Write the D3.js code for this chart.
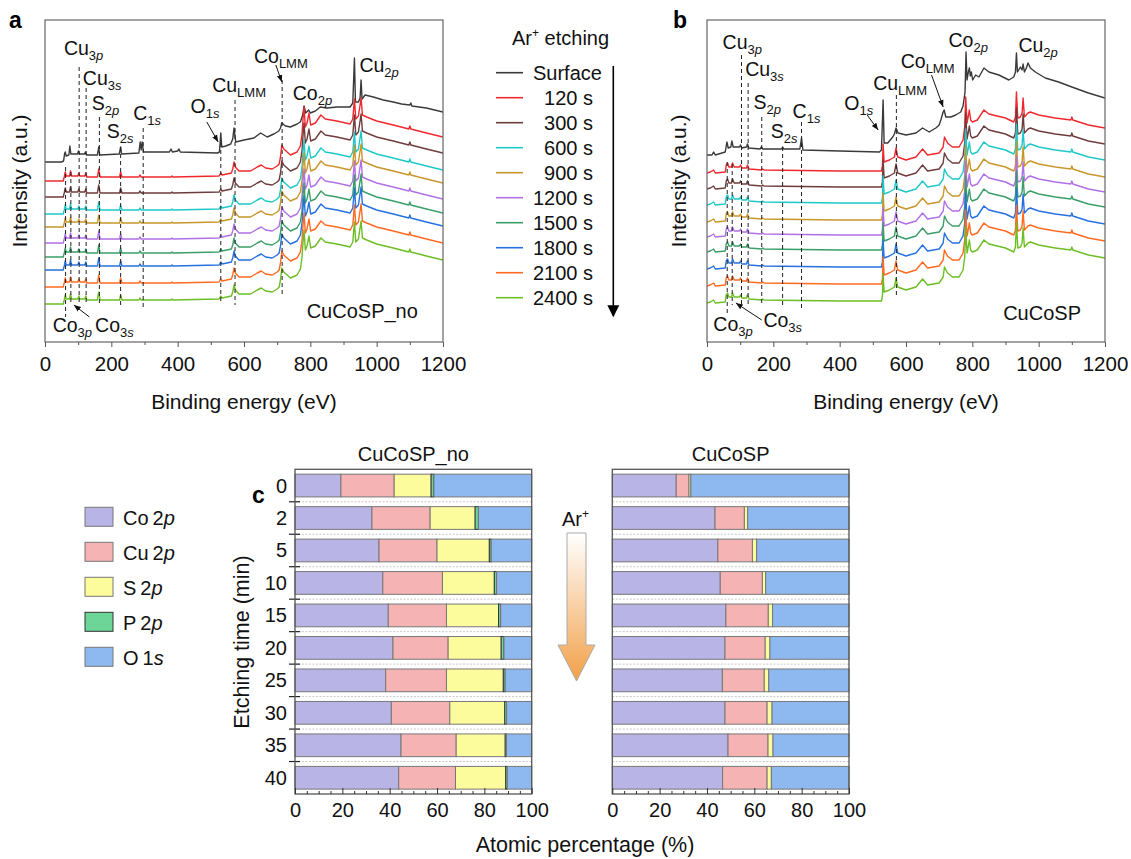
<!DOCTYPE html>
<html><head><meta charset="utf-8">
<script src="https://cdn.jsdelivr.net/npm/d3@7"></script>
<style>
body{margin:0;background:#fff;}
svg{font-family:"Liberation Sans",Arial,sans-serif;}
</style>
</head><body>
<svg id="c" width="1131" height="859"></svg>
<script>
// ---------------- DATA ----------------
const energyTicks = [0,200,400,600,800,1000,1200];
const energyMinor = [100,300,500,700,900,1100];
const seriesNames = ["Surface","120 s","300 s","600 s","900 s","1200 s","1500 s","1800 s","2100 s","2400 s"];

// Panel a (CuCoSP_no) : [binding energy eV, intensity a.u.]
const specA_surface = [[0,180],[30,180],[50,180],[56,181],[59,188],[61,190],[64,186],[72,187],[75,196],[78,188],[98,188],[101,191],[104,188],[119,188],[122,190],[125,187],[158,187],[162,195],[165,187],[224,188],[228,195],[231,188],[283,189],[287,200],[290,192],[293,200],[297,190],[375,190],[380,193],[384,190],[400,191],[404,193],[408,190],[520,189],[526,190],[530,209],[533,195],[545,196],[560,198],[566,203],[570,214],[575,200],[600,202],[630,204],[650,209],[670,205],[690,208],[705,211],[710,214],[714,219],[725,216],[740,215],[760,218],[770,220],[777,227],[781,236],[786,229],[795,232],[800,229],[815,231],[830,235],[850,234],[880,235],[920,235],[928,239],[933,284],[936,240],[945,240],[950,244],[953,262],[956,243],[965,247],[990,245],[1020,242],[1050,240],[1075,238],[1100,237],[1103,239],[1106,236],[1150,234],[1200,230]];
const specA_etched = [[0,38],[30,38],[55,38],[58,42],[61,47],[64,43],[74,43],[77,48],[80,43],[99,43],[102,46],[105,43],[120,43],[123,46],[126,42],[158,42],[162,50],[166,42],[225,42],[228,47],[232,42],[283,42],[286,44],[290,42],[380,42],[383,43],[386,42],[525,43],[530,46],[534,44],[562,46],[566,50],[570,57],[574,52],[585,48],[620,48],[640,52],[652,54],[665,51],[685,50],[700,53],[706,55],[710,62],[714,74],[720,70],[740,64],[760,67],[770,73],[775,85],[778,100],[781,112],[785,92],[790,96],[796,106],[801,94],[815,96],[832,104],[845,100],[880,98],[920,95],[928,100],[933,120],[937,100],[945,103],[953,121],[957,104],[970,102],[1000,98],[1050,94],[1097,90],[1100,93],[1103,90],[1150,86],[1200,82]];
const offsetsA = [123,107,90,77,61,47,34,17,0];

// Panel b (CuCoSP)
const specB_surface = [[0,187],[15,187],[20,190],[25,187],[55,190],[58,196],[60,200],[64,194],[72,195],[75,201],[79,195],[98,195],[101,197],[105,194],[119,195],[122,198],[126,194],[160,193],[164,195],[168,193],[225,193],[228,195],[231,193],[280,193],[285,204],[289,192],[400,191],[520,190],[526,192],[531,242],[534,199],[545,199],[560,205],[565,208],[570,214],[576,209],[600,207],[630,209],[650,214],[670,210],[690,214],[700,217],[705,222],[712,230],[715,232],[720,225],[735,225],[750,227],[765,230],[772,236],[778,250],[781,290],[784,262],[788,270],[791,274],[794,266],[797,270],[801,262],[810,267],[820,265],[835,274],[850,270],[880,267],[910,262],[925,265],[930,270],[933,289],[936,270],[945,275],[950,272],[953,278],[957,270],[963,274],[968,279],[975,274],[990,270],[1020,264],[1060,260],[1100,255],[1150,249],[1200,244]];
const specB_etched = [[0,39],[10,40],[20,42],[25,39],[55,40],[58,47],[62,49],[66,45],[74,45],[77,49],[82,45],[98,45],[101,47],[105,44],[119,44],[122,47],[127,43],[165,42],[168,43],[172,42],[400,41],[526,41],[529,46],[531,68],[534,50],[550,52],[565,55],[570,64],[575,55],[600,52],[630,55],[650,63],[665,57],[700,59],[712,65],[716,75],[725,69],[740,65],[760,65],[772,72],[777,85],[780,115],[784,89],[788,96],[791,102],[795,92],[800,90],[815,92],[835,102],[850,98],[900,94],[925,90],[930,95],[933,120],[937,94],[945,95],[950,99],[953,114],[957,95],[968,99],[975,100],[1000,97],[1050,94],[1097,92],[1100,95],[1103,92],[1150,87],[1200,84]];
const offsetsB = [130,114,98,81,66,51,34,17,0];

// Bar chart (panel c)
const etchTimes = ["0","2","5","10","15","20","25","30","35","40"];
const elements = ["Co 2p","Cu 2p","S 2p","P 2p","O 1s"];
const noCo = [19.4,32.5,35.5,37.1,39.4,41.4,38.3,40.7,44.8,43.8];
const noCu = [22.5,24.6,24.5,25.2,24.6,23.3,25.7,24.7,23.3,24.0];
const noS  = [15.6,19.0,22.1,21.9,22.0,22.4,24.0,23.2,20.7,21.2];
const noP  = [1.2,1.4,0.8,1.0,0.9,1.2,0.8,0.8,0.5,0.7];
const noO  = [41.3,22.5,17.1,14.8,13.1,11.7,11.2,10.6,10.7,10.3];
const spCo = [27.0,43.4,44.6,45.6,48.0,47.6,46.5,47.6,48.9,46.6];
const spCu = [5.4,12.4,14.6,17.8,17.9,17.0,17.7,17.8,16.9,18.8];
const spS  = [0.8,1.4,1.8,1.4,1.8,2.0,1.9,2.1,2.1,1.8];
const spP  = [0,0,0,0,0,0,0,0,0,0];
const spO  = [66.8,42.8,39.0,35.2,32.3,33.4,33.9,32.5,32.1,32.8];
const pctTicks = [0,20,40,60,80,100];

// ---------------- STYLE ----------------
const seriesColors = ["#3a3a3a","#f0282d","#6e3c3c","#1fc8c8","#c8962a","#b070e6","#3a9e68","#2670e0","#ff6a20","#6cbe24"];
const elemColors = ["#b8b4e6","#f5b3b4","#fdfc9d","#6dd598","#8eb9f0"];

const svg = d3.select("#c");
const defs = svg.append("defs");
defs.append("marker").attr("id","ah").attr("viewBox","0 0 10 10").attr("refX",10).attr("refY",5)
  .attr("markerWidth",7).attr("markerHeight",7).attr("orient","auto")
  .append("path").attr("d","M0,1L10,5L0,9z").attr("fill","#111");
defs.append("marker").attr("id","ahBig").attr("viewBox","0 0 10 10").attr("refX",9).attr("refY",5)
  .attr("markerUnits","userSpaceOnUse").attr("markerWidth",13).attr("markerHeight",12).attr("orient","auto")
  .append("path").attr("d","M0,0L10,5L0,10z").attr("fill","#000");
const grad = defs.append("linearGradient").attr("id","arg").attr("x1",0).attr("y1",0).attr("x2",0).attr("y2",1);
grad.append("stop").attr("offset","0%").attr("stop-color","#ffffff");
grad.append("stop").attr("offset","100%").attr("stop-color","#f2a048");

function subText(g, x, y, main, subN, subI, fs, sfs, dy) {
  const t = g.append("text").attr("x",x).attr("y",y).attr("font-size",fs).attr("fill","#111");
  t.append("tspan").text(main);
  t.append("tspan").attr("dy",dy).attr("font-size",sfs).text(subN);
  if (subI) t.append("tspan").attr("font-size",sfs).attr("font-style","italic").text(subI);
  return t;
}

// ---------------- SPECTRA PANELS ----------------
function spectraPanel(cfg) {
  const g = svg.append("g");
  const x = d3.scaleLinear().domain([0,1200]).range([cfg.x0, cfg.x1]);
  const y = d3.scaleLinear().domain([0,322]).range([342,20]);
  const cid = "clip"+cfg.id;
  defs.append("clipPath").attr("id",cid).append("rect")
    .attr("x",cfg.x0).attr("y",20).attr("width",cfg.x1-cfg.x0).attr("height",322);
  const line = d3.line().x(d=>x(d[0])).y(d=>y(d[1]));
  const lines = g.append("g").attr("clip-path",`url(#${cid})`);
  // dashed guide lines
  cfg.dashes.forEach(d => {
    g.append("line").attr("x1",x(d[0])).attr("x2",x(d[0])).attr("y1",y(d[1])).attr("y2",y(d[2]))
      .attr("stroke","#222").attr("stroke-width",1).attr("stroke-dasharray","4,3");
  });
  const all = [cfg.surface].concat(cfg.offsets.map(o => cfg.etched.map(p => [p[0], p[1]+o])));
  all.forEach((s,i) => {
    lines.append("path").datum(s).attr("d",line).attr("fill","none")
      .attr("stroke",seriesColors[i]).attr("stroke-width",1.4).attr("stroke-linejoin","round");
  });
  // frame
  g.append("rect").attr("x",cfg.x0).attr("y",20).attr("width",cfg.x1-cfg.x0).attr("height",322)
    .attr("fill","none").attr("stroke","#666").attr("stroke-width",1.2);
  const ax = g.append("g").attr("transform","translate(0,342)")
    .call(d3.axisBottom(x).tickValues(energyTicks).tickSize(5).tickPadding(9).tickFormat(d3.format("d")));
  ax.select(".domain").remove();
  ax.selectAll("line").attr("stroke","#555");
  ax.selectAll("text").attr("font-size",20.5).attr("fill","#111").attr("font-family",null);
  const axm = g.append("g").attr("transform","translate(0,342)")
    .call(d3.axisBottom(x).tickValues(energyMinor).tickSize(3).tickFormat(""));
  axm.select(".domain").remove();
  axm.selectAll("line").attr("stroke","#555");
  g.append("text").attr("x",(cfg.x0+cfg.x1)/2).attr("y",409).attr("text-anchor","middle")
    .attr("font-size",21).attr("fill","#111").text("Binding energy (eV)");
  g.append("text").attr("transform",`translate(${cfg.yTitleX},181) rotate(-90)`).attr("text-anchor","middle")
    .attr("font-size",21).attr("fill","#111").text("Intensity (a.u.)");
  g.append("text").attr("x",cfg.letterX).attr("y",28).attr("font-size",23).attr("font-weight","bold").text(cfg.letter);
  // labels
  cfg.labels.forEach(l => subText(g, x(l[3]), y(l[4]), l[0], l[1], l[2], 19.5, 13, 4.5));
  cfg.arrows.forEach(a => {
    g.append("line").attr("x1",x(a[0])).attr("y1",y(a[1])).attr("x2",x(a[2])).attr("y2",y(a[3]))
      .attr("stroke","#111").attr("stroke-width",1).attr("marker-end","url(#ah)");
  });
  g.append("text").attr("x",x(cfg.name[1])).attr("y",y(cfg.name[2])).attr("font-size",20).attr("fill","#111").text(cfg.name[0]);
}

spectraPanel({
  id:"a", x0:45, x1:443, yTitleX:27, letter:"a", letterX:9,
  surface:specA_surface, etched:specA_etched, offsets:offsetsA,
  dashes:[[62,175,25],[78,170,37],[103,275,37],[124,254,37],[164,225,37],[228,195,37],[296,214,35],[530,199,39],[573,242,37],[715,262,47]],
  labels:[["Cu","3","p",57,287],["Cu","3","s",114,257],["S","2","p",141,232],["S","2","s",186,204],["C","1","s",266,222],
          ["O","1","s",439,229],["Cu","LMM","",504,250],["Co","LMM","",630,279],["Co","2","p",747,242],["Cu","2","p",948,270],
          ["Co","3","p",23,10],["Co","3","s",151,10]],
  arrows:[[488,220,522,200],[696,277,714,260],[134,25,87,37]],
  name:["CuCoSP_no",789,24]
});
spectraPanel({
  id:"b", x0:707, x1:1105, yTitleX:686, letter:"b", letterX:673,
  surface:specB_surface, etched:specB_etched, offsets:offsetsB,
  dashes:[[61,180,29],[76,178,37],[104,287,37],[124,259,37],[165,225,37],[228,195,37],[285,220,34],[571,247,44]],
  labels:[["Cu","3","p",47,293],["Cu","3","s",115,266],["S","2","p",140,233],["S","2","s",192,204],["C","1","s",258,224],
          ["O","1","s",414,232],["Cu","LMM","",501,252],["Co","LMM","",584,274],["Co","2","p",728,295],["Cu","2","p",939,290],
          ["Co","3","p",19,11],["Co","3","s",170,15]],
  arrows:[[483,227,516,212],[677,267,712,235],[165,22,87,39]],
  name:["CuCoSP",893,22]
});

// ---------------- LEGEND (spectra) ----------------
(function(){
  const g = svg.append("g");
  const t = g.append("text").attr("x",512).attr("y",45).attr("font-size",20).attr("fill","#111");
  t.append("tspan").text("Ar");
  t.append("tspan").attr("font-size",12).attr("dy",-8).text("+");
  t.append("tspan").attr("dy",8).text(" etching");
  const ly = d3.scalePoint().domain(seriesNames).range([72.7, 297.7]);
  seriesNames.forEach((n,i) => {
    g.append("line").attr("x1",496).attr("x2",523).attr("y1",ly(n)).attr("y2",ly(n))
      .attr("stroke",seriesColors[i]).attr("stroke-width",1.6);
    const tx = g.append("text").attr("y",ly(n)+7).attr("font-size",20).attr("fill","#111").text(n);
    if (i===0) tx.attr("x",533); else tx.attr("x",593).attr("text-anchor","end");
  });
  g.append("line").attr("x1",613.3).attr("x2",613.3).attr("y1",66).attr("y2",316)
    .attr("stroke","#000").attr("stroke-width",1.6).attr("marker-end","url(#ahBig)");
})();

// ---------------- BAR CHARTS ----------------
function barPanel(cfg) {
  const g = svg.append("g");
  const x = d3.scaleLinear().domain([0,100]).range([cfg.x0, cfg.x1]);
  const y = d3.scaleBand().domain(etchTimes).range([469.3,794]).paddingInner(0.3).paddingOuter(0.15);
  const rows = etchTimes.map((t,i) => ({t, "Co 2p":cfg.v[0][i], "Cu 2p":cfg.v[1][i], "S 2p":cfg.v[2][i], "P 2p":cfg.v[3][i], "O 1s":cfg.v[4][i]}));
  const stack = d3.stack().keys(elements)(rows);
  // gap separators
  etchTimes.slice(0,-1).forEach(t => {
    const yy = y(t) + y.bandwidth() + (y.step()-y.bandwidth())/2;
    g.append("line").attr("x1",cfg.x0).attr("x2",cfg.x1).attr("y1",yy).attr("y2",yy)
      .attr("stroke","#c8c8c8").attr("stroke-width",1).attr("stroke-dasharray","2,1.5");
    if (cfg.yTicks) g.append("line").attr("x1",cfg.x0-6).attr("x2",cfg.x0+5).attr("y1",yy).attr("y2",yy)
      .attr("stroke","#222").attr("stroke-width",1.2);
  });
  stack.forEach((layer,k) => {
    g.append("g").selectAll("rect").data(layer.filter(d => d[1]-d[0] > 0)).join("rect")
      .attr("x", d => x(d[0])).attr("width", d => x(d[1]) - x(d[0]))
      .attr("y", d => y(d.data.t)).attr("height", y.bandwidth())
      .attr("fill", elemColors[k]).attr("stroke", k===3 ? "#333" : "#777").attr("stroke-width",1);
  });
  g.append("rect").attr("x",cfg.x0).attr("y",469.3).attr("width",cfg.x1-cfg.x0).attr("height",794-469.3)
    .attr("fill","none").attr("stroke","#555").attr("stroke-width",1.3);
  const ax = g.append("g").attr("transform","translate(0,794)")
    .call(d3.axisBottom(x).tickValues(pctTicks).tickSize(-6).tickPadding(9));
  ax.select(".domain").remove();
  ax.selectAll("line").attr("stroke","#333");
  ax.selectAll("text").attr("font-size",20).attr("fill","#111").attr("font-family",null);
  const axm = g.append("g").attr("transform","translate(0,794)")
    .call(d3.axisBottom(x).tickValues(d3.range(5,100,5).filter(v => v%20)).tickSize(-3).tickFormat(""));
  axm.select(".domain").remove();
  axm.selectAll("line").attr("stroke","#333");
  if (cfg.yLabels) {
    etchTimes.forEach(t => g.append("text").attr("x",287).attr("y",y(t)+y.bandwidth()/2+7)
      .attr("text-anchor","end").attr("font-size",20).attr("fill","#111").text(t));
  }
  g.append("text").attr("x",(cfg.x0+cfg.x1)/2).attr("y",461).attr("text-anchor","middle")
    .attr("font-size",20).attr("fill","#111").text(cfg.title);
}
barPanel({x0:295, x1:531.7, v:[noCo,noCu,noS,noP,noO], yTicks:true, yLabels:true, title:"CuCoSP_no"});
barPanel({x0:612.3, x1:849, v:[spCo,spCu,spS,spP,spO], yTicks:false, yLabels:false, title:"CuCoSP"});

svg.append("text").attr("x",585).attr("y",852).attr("text-anchor","middle").attr("font-size",21.5).attr("fill","#111").text("Atomic percentage (%)");
svg.append("text").attr("transform","translate(249,642) rotate(-90)").attr("text-anchor","middle").attr("font-size",21.5).attr("fill","#111").text("Etching time (min)");
svg.append("text").attr("x",252).attr("y",503).attr("font-size",23).attr("font-weight","bold").text("c");

// bar legend
(function(){
  const g = svg.append("g");
  const ly = d3.scalePoint().domain(elements).range([507.3, 647.3]);
  elements.forEach((e,i) => {
    g.append("rect").attr("x",85).attr("y",ly(e)).attr("width",28).attr("height",19)
      .attr("fill",elemColors[i]).attr("stroke", i===3 ? "#333" : "#777").attr("stroke-width",1);
    const parts = e.split(" ");
    const t = g.append("text").attr("x",123).attr("y",ly(e)+17.5).attr("font-size",20).attr("fill","#111");
    t.append("tspan").text(parts[0]);
    t.append("tspan").attr("dx",4).text(parts[1][0]);
    t.append("tspan").attr("font-style","italic").text(parts[1].slice(1));
  });
  // Ar+ gradient arrow
  const at = g.append("text").attr("x",562).attr("y",526).attr("font-size",20).attr("fill","#111");
  at.append("tspan").text("Ar");
  at.append("tspan").attr("font-size",12).attr("dy",-8).text("+");
  const ap = d3.path();
  ap.moveTo(567,533); ap.lineTo(586,533); ap.lineTo(586,645); ap.lineTo(595,645);
  ap.lineTo(576.5,681); ap.lineTo(558,645); ap.lineTo(567,645); ap.closePath();
  g.append("path").attr("d",ap.toString()).attr("fill","url(#arg)").attr("stroke","#aaa").attr("stroke-width",1);
})();
</script>
</body></html>
